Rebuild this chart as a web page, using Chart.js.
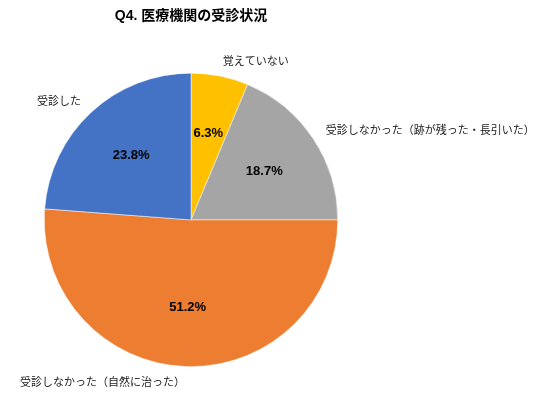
<!DOCTYPE html>
<html>
<head>
<meta charset="utf-8">
<script src="https://cdn.jsdelivr.net/npm/chart.js@4"></script>
<style>
  html, body { margin: 0; padding: 0; background: #fff; }
  #wrap { width: 536px; height: 412px; }
</style>
</head>
<body>
<div id="wrap"><canvas id="chart"></canvas></div>
<script>
// data
var categories = ['覚えていない', '受診しなかった（跡が残った・長引いた）', '受診しなかった（自然に治った）', '受診した'];
var shares = [6.3, 18.7, 51.2, 23.8];
var sliceColors = ['#FFC000', '#A5A5A5', '#ED7D31', '#4472C4'];

var JP = '"Noto Sans CJK JP", "Noto Sans", sans-serif';
var NUM = '"Liberation Sans", "Noto Sans CJK JP", sans-serif';

// slice labels: % inside, category name outside
var pieLabels = {
    id: 'pieLabels',
    afterDatasetsDraw: function(chart) {
        var ctx = chart.ctx;
        var meta = chart.getDatasetMeta(0);
        ctx.save();
        meta.data.forEach(function(arc, i) {
            var p = arc.getProps(['x', 'y', 'startAngle', 'endAngle', 'outerRadius'], true);
            var mid = (p.startAngle + p.endAngle) / 2;
            var cos = Math.cos(mid), sin = Math.sin(mid);

            // value
            var r1 = p.outerRadius * 0.6;
            ctx.font = 'bold 13px ' + NUM;
            ctx.fillStyle = '#000';
            ctx.textAlign = 'center';
            ctx.textBaseline = 'middle';
            ctx.fillText(shares[i].toFixed(1) + '%', p.x + cos * r1, p.y + sin * r1);

            // category
            var r2 = p.outerRadius + 15;
            ctx.font = '11px ' + JP;
            ctx.fillStyle = '#222';
            ctx.textAlign = cos >= 0 ? 'left' : 'right';
            ctx.fillText(categories[i], p.x + cos * r2, p.y + sin * r2);
        });
        ctx.restore();
    }
};

var ctx = document.getElementById('chart').getContext('2d');
var myChart = new Chart(ctx, {
    type: 'pie',
    data: {
        labels: categories,
        datasets: [{
            data: shares,
            backgroundColor: sliceColors,
            borderColor: '#fff',
            borderWidth: 0.5
        }]
    },
    options: {
        responsive: true,
        maintainAspectRatio: false,
        animation: false,
        layout: {
            padding: { left: 44, right: 198, top: 8, bottom: 45 }
        },
        plugins: {
            legend: { display: false },
            tooltip: { enabled: false },
            title: {
                display: true,
                text: 'Q4. 医療機関の受診状況',
                fullSize: false,
                color: '#000',
                font: { family: NUM, size: 14, weight: 'bold', lineHeight: 1.2 },
                padding: { top: 0, bottom: 48 }
            }
        }
    },
    plugins: [pieLabels]
});
</script>
</body>
</html>
